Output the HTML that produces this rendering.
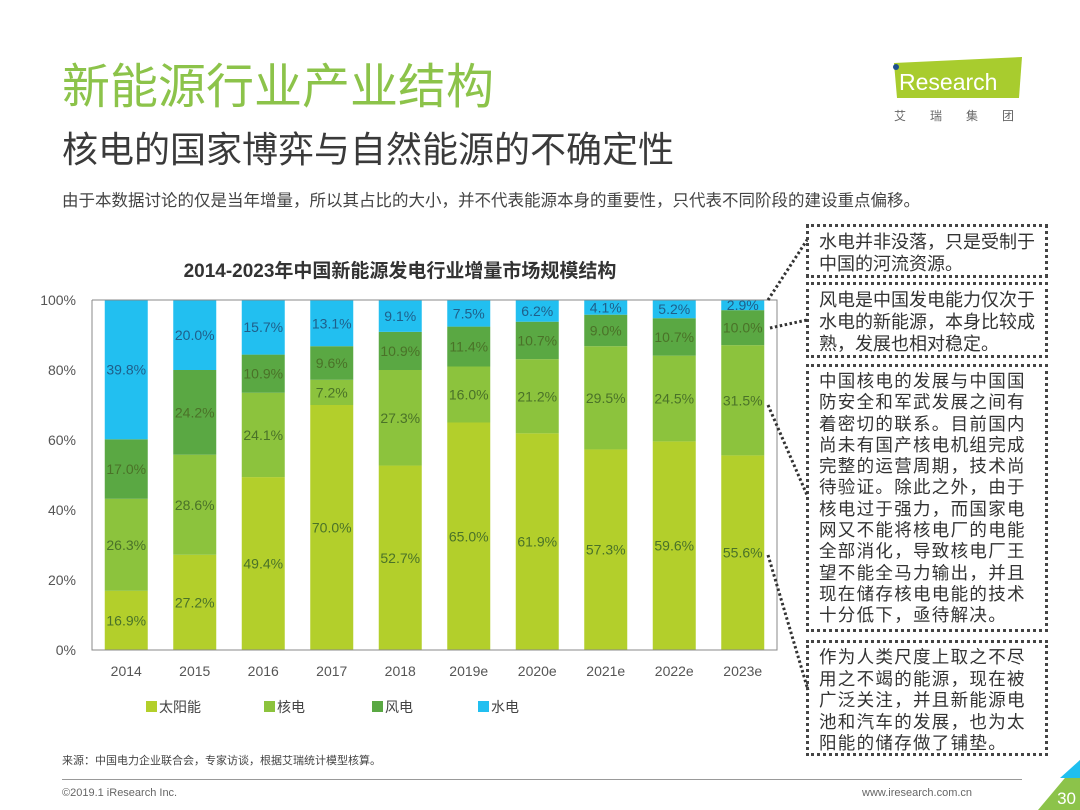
<!DOCTYPE html>
<html><head><meta charset="utf-8">
<style>
html,body{margin:0;padding:0;background:#fff;}
body{width:1080px;height:810px;position:relative;overflow:hidden;font-family:"Liberation Sans","Noto Sans CJK SC",sans-serif;}
.abs{position:absolute;}
.box{position:absolute;border:3px dotted #444;box-sizing:border-box;padding:4px 0 0 10px;color:#333;white-space:pre;}
</style></head><body>
<div class="abs" style="left:62px;top:58px;font-size:48px;color:#8cc34a;line-height:60px;">新能源行业产业结构</div>
<div class="abs" style="left:62px;top:126px;font-size:36px;color:#3a3a3a;line-height:48px;">核电的国家博弈与自然能源的不确定性</div>
<div class="abs" style="left:62px;top:189px;font-size:16.5px;color:#444;line-height:24px;">由于本数据讨论的仅是当年增量，所以其占比的大小，并不代表能源本身的重要性，只代表不同阶段的建设重点偏移。</div>
<svg class="abs" style="left:880px;top:50px" width="160" height="80">
<polygon points="14,13 142,7 139,48 17,48" fill="#a8cc2e"/>
<circle cx="16" cy="17" r="3" fill="#1d4f8c"/>
<text x="19" y="40" font-size="23" fill="#fff" font-family="Liberation Sans, sans-serif">Research</text>
<text x="14" y="70" font-size="12" fill="#666" letter-spacing="24" font-family="Liberation Sans, Noto Sans CJK SC, sans-serif">艾瑞集团</text>
</svg>

<div class="box" style="left:806px;top:224px;width:242px;height:54px;font-size:18px;line-height:22px;">水电并非没落，只是受制于
中国的河流资源。</div>
<div class="box" style="left:806px;top:282px;width:242px;height:76px;font-size:18px;line-height:22px;">风电是中国发电能力仅次于
水电的新能源，本身比较成
熟，发展也相对稳定。</div>
<div class="box" style="left:806px;top:364px;width:242px;height:268px;font-size:17.5px;line-height:21.3px;letter-spacing:1.3px;padding-top:4px;">中国核电的发展与中国国
防安全和军武发展之间有
着密切的联系。目前国内
尚未有国产核电机组完成
完整的运营周期，技术尚
待验证。除此之外，由于
核电过于强力，而国家电
网又不能将核电厂的电能
全部消化，导致核电厂王
望不能全马力输出，并且
现在储存核电电能的技术
十分低下，亟待解决。</div>
<div class="box" style="left:806px;top:640px;width:242px;height:116px;font-size:17.5px;line-height:21.5px;letter-spacing:1.3px;padding-top:4px;">作为人类尺度上取之不尽
用之不竭的能源，现在被
广泛关注，并且新能源电
池和汽车的发展，也为太
阳能的储存做了铺垫。</div>

<svg class="abs" id="chart" style="left:0;top:0" width="1080" height="810"></svg>

<div class="abs" style="left:62px;top:752px;font-size:11px;color:#444;">来源：中国电力企业联合会，专家访谈，根据艾瑞统计模型核算。</div>
<div class="abs" style="left:62px;top:779px;width:960px;height:1px;background:#999;"></div>
<div class="abs" style="left:62px;top:787px;font-size:11px;color:#666;">©2019.1 iResearch Inc.</div>
<div class="abs" style="left:862px;top:787px;font-size:11px;color:#666;">www.iresearch.com.cn</div>
<svg class="abs" style="left:1030px;top:760px" width="50" height="50"><polygon points="50,0 50,50 8,50" fill="#8cc34a"/><polygon points="50,0 50,18 30,18" fill="#1fbfef"/><text x="46" y="44" text-anchor="end" font-size="17" fill="#fff">30</text></svg>

<script>
const categories=["2014","2015","2016","2017","2018","2019e","2020e","2021e","2022e","2023e"];
const solar=[16.9,27.2,49.4,70.0,52.7,65.0,61.9,57.3,59.6,55.6];
const nuclear=[26.3,28.6,24.1,7.2,27.3,16.0,21.2,29.5,24.5,31.5];
const wind=[17.0,24.2,10.9,9.6,10.9,11.4,10.7,9.0,10.7,10.0];
const hydro=[39.8,20.0,15.7,13.1,9.1,7.5,6.2,4.1,5.2,2.9];
const seriesNames=["太阳能","核电","风电","水电"];
const yTicks=[0,20,40,60,80,100];
const colors=["#b3cf2b","#8cc33d","#5aa843","#22bff0"];
const NS="http://www.w3.org/2000/svg";
const svg=document.getElementById('chart');
const L=92,R=777,T=300,B=650;
const band=(R-L)/categories.length, bw=43;
const x=i=>L+band*(i+0.5);
const y=v=>B-(v/100)*(B-T);
function mk(tag,attrs){const e=document.createElementNS(NS,tag);for(const k in attrs)e.setAttribute(k,attrs[k]);svg.appendChild(e);return e;}
let t=mk('text',{x:400,y:277,'text-anchor':'middle','font-size':19,'font-weight':'bold',fill:'#333'});t.textContent="2014-2023年中国新能源发电行业增量市场规模结构";


yTicks.forEach(v=>{const e=mk('text',{x:76,y:y(v)+5,'text-anchor':'end','font-size':14,fill:'#555'});e.textContent=v+"%";

});
const series=[solar,nuclear,wind,hydro];
categories.forEach((c,i)=>{
 let acc=0;
 series.forEach((s,k)=>{
  const v=s[i];
  const r=mk('rect',{x:x(i)-bw/2,y:y(acc+v),width:bw,height:y(acc)-y(acc+v),fill:colors[k]});
  
  
  const lb=mk('text',{x:x(i),y:y(acc+v/2)+5,'text-anchor':'middle','font-size':14,fill:k==3?'#1f5f8a':'#4a7228'});
  lb.textContent=v.toFixed(1)+"%";
  
  
  acc+=v;
 });
 const xl=mk('text',{x:x(i),y:676,'text-anchor':'middle','font-size':14,fill:'#555'});xl.textContent=c;
 
 
});
mk('polyline',{points:`${L},${T} ${R},${T} ${R},${B} ${L},${B} ${L},${T}`,fill:'none',stroke:'#888','stroke-width':1});
const legX=[146,264,372,478];
seriesNames.forEach((n,k)=>{
 const r=mk('rect',{x:legX[k],y:701,width:11,height:11,fill:colors[k]});
 
 
 const e=mk('text',{x:legX[k]+13,y:712,'font-size':14,fill:'#444'});e.textContent=n;
 
 
});
[[768,300,807,240],[770,328,807,320],[768,405,807,495],[768,555,808,690]].forEach(p=>{
 const l=mk('line',{x1:p[0],y1:p[1],x2:p[2],y2:p[3],stroke:'#333','stroke-width':3,'stroke-dasharray':'2.5,2.5'});
 
 
});
</script>
</body></html>
